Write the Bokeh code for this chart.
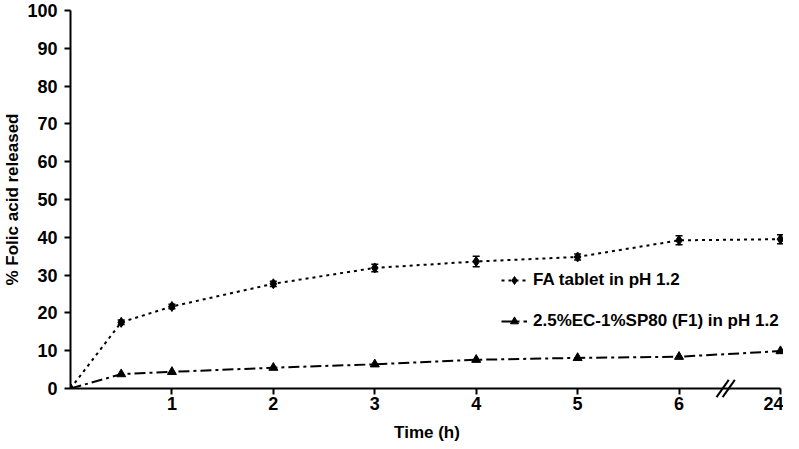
from bokeh.plotting import figure
from bokeh.models import (FixedTicker, Whisker, ColumnDataSource, Legend, LegendItem,
                          Range1d, TeeHead)
from bokeh.embed import file_html
from bokeh.resources import INLINE

# Data (time in hours; 24 h is drawn after an axis break)
hours = [0, 0.5, 1, 2, 3, 4, 5, 6, 24]
fa_release = [0, 17.5, 21.7, 27.7, 31.9, 33.6, 34.8, 39.2, 39.5]
fa_sd = [0, 0.6, 0.6, 0.7, 1.0, 1.4, 0.8, 1.2, 1.2]
f1_release = [0, 3.8, 4.4, 5.5, 6.4, 7.6, 8.1, 8.4, 9.9]
tick_hours = [1, 2, 3, 4, 5, 6, 24]
y_ticks = [0, 10, 20, 30, 40, 50, 60, 70, 80, 90, 100]
series_names = ["FA tablet in pH 1.2", "2.5%EC-1%SP80 (F1) in pH 1.2"]


def pos(h):
    # broken axis: hours up to 6 are linear, 24 h sits one step after 6
    return h if h <= 6 else 7


xs = [pos(h) for h in hours]
src = ColumnDataSource(dict(
    x=xs,
    fa=fa_release, fa_lo=[v - e for v, e in zip(fa_release, fa_sd)],
    fa_hi=[v + e for v, e in zip(fa_release, fa_sd)],
    f1=f1_release,
))

FONT = "Liberation Sans"

p = figure(width=783, height=448, output_backend="svg", toolbar_location=None,
           x_range=Range1d(0, 7.03), y_range=Range1d(0, 100),
           min_border_left=58, min_border_right=0, min_border_top=10, min_border_bottom=60)
p.outline_line_color = None
p.grid.visible = False
p.background_fill_color = "white"

l1 = p.line("x", "fa", source=src, line_color="black", line_width=2, line_dash="3 4")
w1 = Whisker(base="x", lower="fa_lo", upper="fa_hi", source=src, line_color="black",
             line_width=1.5)
w1.upper_head = TeeHead(size=7, line_color="black", line_width=1.5)
w1.lower_head = TeeHead(size=7, line_color="black", line_width=1.5)
p.add_layout(w1)
s1 = p.scatter("x", "fa", source=src, marker="diamond", size=10, color="black")

l2 = p.line("x", "f1", source=src, line_color="black", line_width=2, line_dash="11 4 3 4")
s2 = p.scatter("x", "f1", source=src, marker="triangle", size=9, color="black")

# axes
for ax in (p.xaxis[0], p.yaxis[0]):
    ax.axis_line_width = 2
    ax.axis_line_color = "black"
    ax.major_tick_line_width = 2
    ax.major_tick_line_color = "black"
    ax.major_tick_in = 0
    ax.major_tick_out = 6
    ax.minor_tick_line_color = None
    ax.major_label_text_font = FONT
    ax.major_label_text_font_style = "bold"
    ax.major_label_text_font_size = "18px"
    ax.major_label_text_color = "black"
    ax.axis_label_text_font = FONT
    ax.axis_label_text_font_style = "bold"
    ax.axis_label_text_font_size = "17px"
    ax.axis_label_text_color = "black"

p.xaxis.ticker = FixedTicker(ticks=[pos(h) for h in tick_hours])
p.xaxis.major_label_overrides = {pos(h): str(h) for h in tick_hours}
p.xaxis.bounds = (0, 7)
p.xaxis.major_label_standoff = 2
p.xaxis.axis_label = "Time (h)"
p.xaxis.axis_label_standoff = 10

p.yaxis.ticker = FixedTicker(ticks=y_ticks)
p.yaxis.major_label_standoff = 7
p.yaxis.axis_label = "% Folic acid released"
p.yaxis.axis_label_standoff = 2

# axis break marks (two slanted strokes between 6 h and 24 h)
brk = p.segment(x0=[6.37, 6.43], y0=[-2.3, -2.3], x1=[6.49, 6.55], y1=[2.3, 2.3],
                line_color="black", line_width=2)
brk.level = "overlay"

legend = Legend(items=[LegendItem(label=series_names[0], renderers=[l1, s1]),
                       LegendItem(label=series_names[1], renderers=[l2, s2])],
                location=(431, 57), orientation="vertical",
                glyph_width=26, glyph_height=20, label_height=20, spacing=21,
                label_standoff=6, padding=0, margin=0,
                border_line_alpha=0, background_fill_alpha=0,
                label_text_font=FONT, label_text_font_style="bold",
                label_text_font_size="17px", label_text_color="black")
p.add_layout(legend)

open("out.html", "w").write(file_html(p, INLINE))
